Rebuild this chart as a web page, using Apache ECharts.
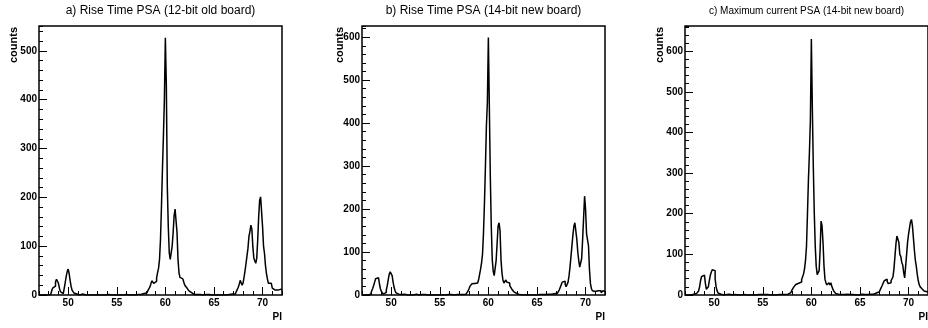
<!DOCTYPE html>
<html><head><meta charset="utf-8">
<script src="https://cdn.jsdelivr.net/npm/echarts@6/dist/echarts.min.js"></script>
<style>html,body{margin:0;padding:0;background:#fff}#c{width:928px;height:328px}</style>
</head><body><div id="c"></div>
<script>
// ---- data ----
const binStart = 47, binWidth = 0.1, xMin = 47, xMax = 72;
const xTickLabels = [50, 55, 60, 65, 70];
const yTickLabelsA = [0, 100, 200, 300, 400, 500];
const yTickLabelsBC = [0, 100, 200, 300, 400, 500, 600];
const titleA = 'a) Rise Time PSA (12-bit old board)';
const titleB = 'b) Rise Time PSA (14-bit new board)';
const titleC = 'c) Maximum current PSA (14-bit new board)';
const yMaxA = 551, yMaxB = 626, yMaxC = 662;

// counts per 0.1-wide PI bin, one row per unit of PI (47.0 ... 71.9)
const countsA = [
  0,0,0,0,0,0,0,0,0,0,          // 47
  0,1,3,8,14,16,18,27,32,30,    // 48
  24,14,7,4,3,6,14,26,38,48,    // 49
  53,44,30,18,10,6,4,2,2,1,     // 50
  1,0,1,0,2,0,1,0,0,1,          // 51
  0,1,0,0,1,0,0,2,0,0,          // 52
  1,0,0,1,0,0,1,0,0,0,          // 53
  0,1,0,0,0,1,0,0,1,0,          // 54
  0,0,1,0,0,1,0,0,0,1,          // 55
  0,1,0,0,1,0,1,0,0,1,          // 56
  0,1,1,0,1,2,1,3,2,4,          // 57
  4,6,9,12,16,22,29,31,24,22,   // 58
  28,35,46,55,73,114,182,257,325,400, // 59
  527,430,223,141,87,73,70,100,128,162, // 60
  176,176,128,73,46,36,34,33,30,26, // 61
  20,18,15,12,9,7,5,3,2,1,      // 62
  1,0,1,0,0,1,0,2,0,1,          // 63
  0,1,0,0,1,0,1,0,0,1,          // 64
  0,0,1,0,0,1,0,0,1,0,          // 65
  1,0,0,1,0,1,1,0,2,1,          // 66
  1,2,4,7,11,16,22,30,31,20,    // 67
  25,37,50,65,80,96,120,130,143,135, // 68
  99,76,70,65,75,112,160,194,201,201, // 69
  140,100,85,60,44,33,24,22,24,20, // 70
  14,12,10,12,11,10,12,11,12,10 // 71
];
const countsB = [
  0,0,0,0,0,0,0,0,2,6,          // 47
  10,15,22,30,38,41,40,38,25,14,// 48
  8,4,2,3,6,12,22,36,48,54,     // 49
  56,45,30,18,10,5,3,2,1,1,     // 50
  1,0,1,2,0,1,0,0,2,0,          // 51
  1,0,0,1,0,2,0,1,0,0,          // 52
  0,1,0,0,1,0,2,0,0,1,          // 53
  0,0,1,0,1,0,0,1,0,0,          // 54
  1,0,0,1,0,0,1,0,1,0,          // 55
  0,1,0,1,0,0,1,1,0,2,          // 56
  1,0,2,1,2,3,2,4,6,9,          // 57
  14,20,24,26,25,27,24,26,28,30,// 58
  36,48,60,75,95,145,215,300,394,448, // 59
  599,440,277,160,83,55,45,48,80,120, // 60
  160,168,150,83,51,35,28,24,35,30,   // 61
  30,28,22,18,14,10,8,5,4,3,    // 62
  2,1,2,1,0,1,2,0,1,1,          // 63
  0,1,2,0,1,1,0,2,1,0,          // 64
  1,0,1,2,0,1,1,0,1,2,          // 65
  1,2,1,3,2,1,2,3,4,2,          // 66
  4,6,8,12,18,24,30,34,32,25,   // 67
  19,22,30,45,65,90,115,140,160,168, // 68
  165,130,100,80,65,62,85,130,180,230, // 69
  200,143,140,115,60,27,15,10,9,8, // 70
  8,6,10,12,8,10,5,8,10,8       // 71
];
const countsC = [
  0,0,0,0,0,0,0,0,2,3,          // 47
  4,4,5,6,10,20,35,45,48,49,    // 48
  47,28,14,12,20,35,48,56,62,66,// 49
  60,40,20,10,5,3,2,1,1,0,      // 50
  1,0,1,0,1,2,0,1,0,1,          // 51
  0,1,0,1,0,0,1,0,1,0,          // 52
  1,0,1,0,0,2,0,1,0,0,          // 53
  1,0,0,1,0,1,0,0,1,0,          // 54
  0,1,0,0,1,0,1,0,0,1,          // 55
  0,1,1,0,1,0,1,1,0,1,          // 56
  1,2,1,2,3,2,3,4,6,8,          // 57
  12,16,20,24,26,28,29,30,30,32,// 58
  38,45,52,65,85,120,200,284,350,430, // 59
  630,460,317,202,120,71,50,47,60,110, // 60
  182,170,129,71,39,30,25,28,30,25,    // 61
  30,22,15,10,6,4,3,2,1,1,      // 62
  1,0,2,1,0,1,2,0,1,1,          // 63
  0,1,1,0,2,0,1,1,0,1,          // 64
  1,2,0,1,1,0,2,1,1,2,          // 65
  2,3,1,2,4,3,5,4,6,8,          // 66
  10,14,18,24,30,35,39,39,34,28,// 67
  27,30,35,36,45,65,95,125,145,149, // 68
  130,100,95,80,74,55,42,45,100,130, // 69
  150,165,180,186,170,140,110,85,70,50, // 70
  35,25,20,17,15,12,10,8,8,7    // 71
];

// ---- chart ----
const FONT = '"Liberation Sans", Arial, Helvetica, sans-serif';
const panels = [
  {title: titleA, counts: countsA, yMax: yMaxA, yLabels: yTickLabelsA, left: 39, titleSize: 12, countsX: 13.7},
  {title: titleB, counts: countsB, yMax: yMaxB, yLabels: yTickLabelsBC, left: 362, titleSize: 12, countsX: 340},
  {title: titleC, counts: countsC, yMax: yMaxC, yLabels: yTickLabelsBC, left: 685, titleSize: 10, countsX: 660}
];
const W = 243, H = 269, TOP = 26;

function toSteps(counts) {
  const pts = counts.map((v, i) => [Math.round((binStart + i * binWidth) * 1000) / 1000, v]);
  pts.push([xMax, counts[counts.length - 1]]);
  return pts;
}

const grid = [], xAxis = [], yAxis = [], series = [], graphic = [];
panels.forEach((p, k) => {
  grid.push({left: p.left, top: TOP, width: W, height: H, show: true,
    borderColor: '#000', borderWidth: 1.5, backgroundColor: 'transparent'});
  const tickStyle = {color: '#000', width: 1};
  const lab = {color: '#000', fontWeight: 'bold', fontSize: 10, fontFamily: FONT};
  xAxis.push({type: 'value', gridIndex: k, position: 'bottom', min: xMin, max: xMax, interval: 1,
    axisLine: {show: false, onZero: false}, splitLine: {show: false},
    axisTick: {show: true, inside: true, length: 4, lineStyle: tickStyle},
    axisLabel: Object.assign({show: true, customValues: xTickLabels, margin: 3}, lab)});
  xAxis.push({type: 'value', gridIndex: k, position: 'bottom', min: xMin, max: xMax,
    axisLine: {show: false, onZero: false}, splitLine: {show: false},
    axisTick: {show: true, inside: true, length: 8, customValues: xTickLabels, lineStyle: tickStyle},
    axisLabel: {show: false}});
  yAxis.push({type: 'value', gridIndex: k, position: 'left', min: 0, max: p.yMax, interval: 20,
    axisLine: {show: false, onZero: false}, splitLine: {show: false},
    axisTick: {show: true, inside: true, length: 4, lineStyle: tickStyle},
    axisLabel: Object.assign({show: true, customValues: p.yLabels, margin: 2}, lab)});
  yAxis.push({type: 'value', gridIndex: k, position: 'left', min: 0, max: p.yMax,
    axisLine: {show: false, onZero: false}, splitLine: {show: false},
    axisTick: {show: true, inside: true, length: 8, customValues: p.yLabels, lineStyle: tickStyle},
    axisLabel: {show: false}});
  series.push({type: 'line', xAxisIndex: 2 * k, yAxisIndex: 2 * k, step: 'end',
    data: toSteps(p.counts), showSymbol: false, symbol: 'none', silent: true,
    lineStyle: {color: '#000', width: 1.5}});
  graphic.push({type: 'text', x: p.left + W / 2, y: 11,
    style: {text: p.title, fill: '#000', font: p.titleSize + 'px ' + FONT, align: 'center', verticalAlign: 'middle'}});
  graphic.push({type: 'text', x: p.countsX, y: 27, rotation: Math.PI / 2,
    style: {text: 'counts', fill: '#000', font: 'bold 11px ' + FONT, align: 'right', verticalAlign: 'middle'}});
  graphic.push({type: 'text', x: Math.min(p.left + W, 928), y: 317,
    style: {text: 'PI', fill: '#000', font: 'bold 10px ' + FONT, align: 'right', verticalAlign: 'middle'}});
});

const chart = echarts.init(document.getElementById('c'), null, {renderer: 'canvas'});
chart.setOption({animation: false, backgroundColor: '#fff', grid, xAxis, yAxis, series, graphic});
</script></body></html>
